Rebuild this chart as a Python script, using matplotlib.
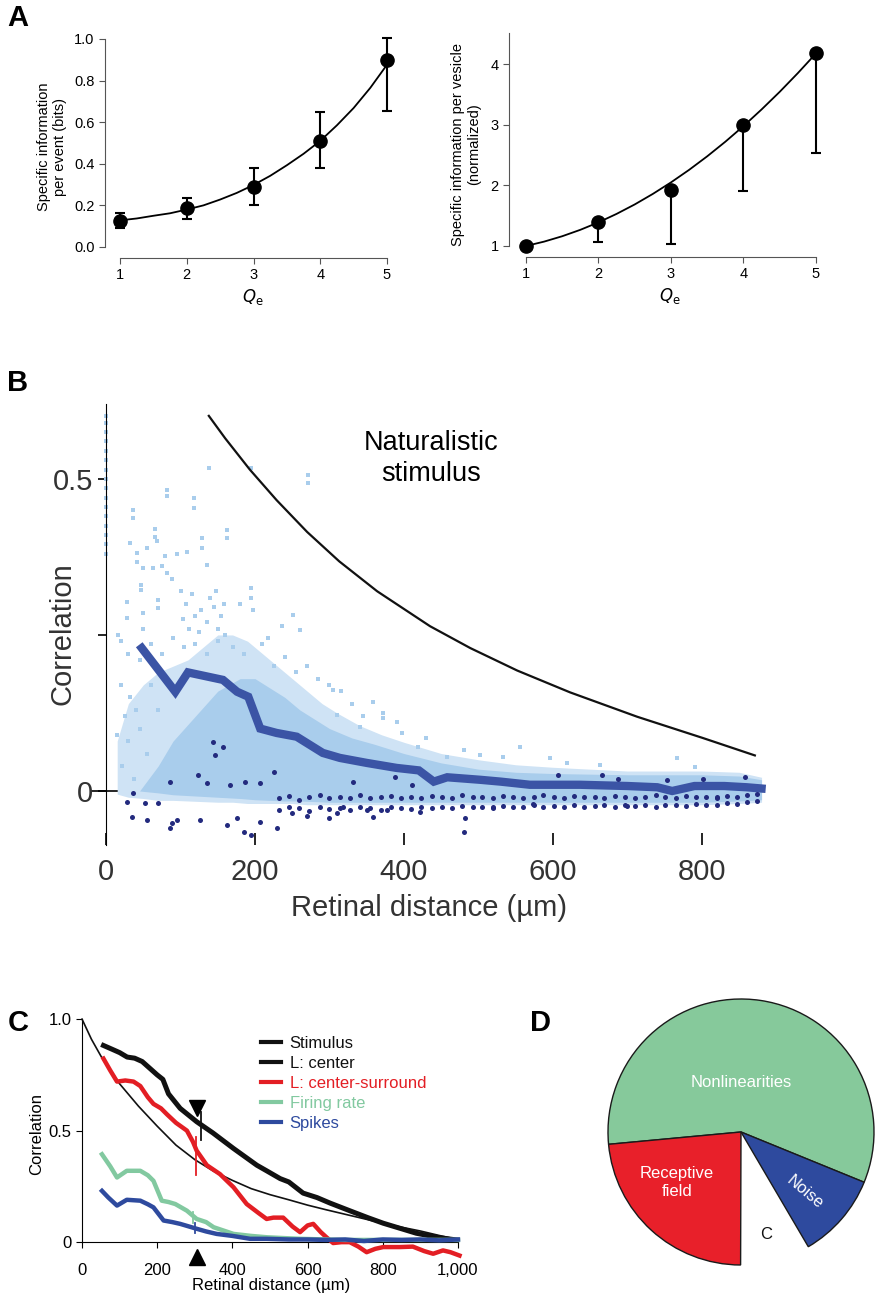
import numpy as np
import matplotlib.pyplot as plt
from matplotlib.lines import Line2D

plt.rcParams['font.family'] = ['Liberation Sans', 'DejaVu Sans']
NARROW = ['Liberation Sans Narrow', 'Liberation Sans', 'DejaVu Sans']

# ---------------- panel A data
qe = [1, 2, 3, 4, 5]
info_event = [0.125, 0.185, 0.29, 0.51, 0.90]
info_event_lo = [0.09, 0.135, 0.20, 0.38, 0.655]
info_event_hi = [0.165, 0.235, 0.38, 0.65, 1.005]
fit_q = [1.0, 1.25, 1.5, 1.75, 2.0, 2.25, 2.5, 2.75, 3.0, 3.25, 3.5, 3.75, 4.0, 4.25, 4.5, 4.75, 5.0]
fit_event = [0.128, 0.137, 0.150, 0.162, 0.180, 0.200, 0.228, 0.260, 0.298, 0.342, 0.393,
             0.448, 0.510, 0.585, 0.668, 0.765, 0.876]
info_vesicle = [1.0, 1.4, 1.93, 3.0, 4.18]
info_vesicle_lo = [1.0, 1.06, 1.03, 1.906, 2.536]
fit_vesicle = [1.000, 1.072, 1.161, 1.267, 1.390, 1.530, 1.686, 1.860, 2.050, 2.257, 2.481,
               2.722, 2.980, 3.255, 3.546, 3.855, 4.180]

# ---------------- panel B data
stim_x = [138, 160, 193, 229, 270, 313, 364, 435, 489, 552, 623, 713, 801, 871]
stim_y = [0.601, 0.565, 0.515, 0.466, 0.415, 0.368, 0.320, 0.264, 0.229, 0.193, 0.158, 0.119,
          0.085, 0.057]
mean_x = [48, 93, 110, 157, 176, 191, 207, 229, 256, 291, 314, 350, 390, 420, 440, 458, 480, 502,
          530, 569, 636, 700, 740, 760, 790, 830, 860, 880]
mean_y = [0.229, 0.159, 0.19, 0.178, 0.159, 0.151, 0.10, 0.093, 0.087, 0.061, 0.053, 0.045, 0.037,
          0.033, 0.015, 0.022, 0.02, 0.018, 0.015, 0.01, 0.01, 0.008, 0.006, 0.0, 0.008, 0.008, 0.006, 0.004]
# outer (sparser) and inner (dense) parts of the light-blue cloud
outer_x = [15, 30, 50, 70, 90, 110, 130, 150, 170, 190, 210, 230, 250, 270, 290, 310, 340, 370, 400,
           450, 500, 550, 600, 650, 700, 750, 800, 850, 880]
outer_hi = [0.08, 0.14, 0.17, 0.19, 0.20, 0.21, 0.23, 0.25, 0.25, 0.24, 0.22, 0.20, 0.18, 0.16, 0.14,
            0.125, 0.105, 0.09, 0.078, 0.06, 0.05, 0.042, 0.038, 0.035, 0.032, 0.032, 0.032, 0.03, 0.022]
outer_lo = [-0.005, -0.01, -0.012, -0.015, -0.015, -0.016, -0.017, -0.018, -0.018, -0.02, -0.02,
            -0.02, -0.02, -0.022, -0.022, -0.022, -0.022, -0.022, -0.022, -0.022, -0.022, -0.022,
            -0.022, -0.022, -0.022, -0.022, -0.022, -0.02, -0.018]
inner_x = [45, 70, 90, 120, 150, 180, 200, 220, 240, 260, 280, 300, 330, 360, 400, 450, 500, 550,
           600, 650, 700, 750, 800, 850, 880]
inner_hi = [0.0, 0.04, 0.08, 0.12, 0.16, 0.18, 0.18, 0.165, 0.15, 0.13, 0.115, 0.10, 0.085, 0.075,
            0.06, 0.045, 0.035, 0.03, 0.028, 0.027, 0.026, 0.026, 0.026, 0.024, 0.018]
inner_lo = [0.0, -0.003, -0.006, -0.008, -0.01, -0.012, -0.014, -0.015, -0.016, -0.016, -0.017,
            -0.018, -0.018, -0.018, -0.018, -0.018, -0.018, -0.018, -0.018, -0.018, -0.018, -0.018,
            -0.018, -0.016, -0.014]
light_x = [0, 0, 0, 0, 0, 0, 0, 0, 0, 0, 0, 0, 0, 0, 0, 0,
           138, 195, 271, 271, 82, 82, 118, 118, 36, 36, 66, 66, 162, 162, 129, 129, 32, 55, 68, 79,
           95, 109, 135, 41, 41, 50, 63, 75, 82, 89, 47, 47, 28, 28, 50, 50, 70, 70, 195, 195, 180,
           197, 251, 236, 260, 217, 16,
           100, 108, 115, 120, 128, 135, 140, 145, 150, 155, 160, 112, 125, 104, 148, 158,
           20, 30, 45, 60, 75, 90, 105, 120, 135, 150, 170, 185, 210, 225, 240, 255, 270, 285, 300,
           315, 20, 32, 25, 40, 15, 30, 45, 55, 22, 38, 60, 70,
           305, 310, 358, 372, 372, 397, 341, 419, 556, 458, 502, 533, 596, 619, 663, 766, 790, 330,
           345, 390, 430, 480]
light_y = [0.60, 0.59, 0.575, 0.56, 0.545, 0.53, 0.515, 0.50, 0.485, 0.47, 0.455, 0.44, 0.425,
           0.41, 0.395, 0.38,
           0.518, 0.518, 0.506, 0.493, 0.482, 0.473, 0.47, 0.454, 0.45, 0.437, 0.42, 0.407, 0.418,
           0.405, 0.405, 0.39, 0.397, 0.39, 0.40, 0.377, 0.38, 0.383, 0.362, 0.381, 0.367, 0.357,
           0.357, 0.36, 0.35, 0.34, 0.33, 0.322, 0.303, 0.277, 0.285, 0.26, 0.306, 0.293, 0.325,
           0.31, 0.30, 0.29, 0.282, 0.265, 0.258, 0.245, 0.25,
           0.32, 0.30, 0.315, 0.28, 0.29, 0.27, 0.31, 0.295, 0.26, 0.28, 0.25, 0.26, 0.255, 0.275,
           0.32, 0.30,
           0.24, 0.22, 0.21, 0.235, 0.22, 0.245, 0.23, 0.235, 0.22, 0.24, 0.23, 0.22, 0.235, 0.2,
           0.215, 0.19, 0.2, 0.18, 0.17, 0.16, 0.17, 0.15, 0.12, 0.13, 0.09, 0.08, 0.1, 0.06, 0.04,
           0.02, 0.17, 0.13,
           0.162, 0.122, 0.143, 0.125, 0.117, 0.093, 0.103, 0.07, 0.07, 0.054, 0.058, 0.054, 0.053,
           0.045, 0.042, 0.053, 0.039, 0.14, 0.12, 0.11, 0.085, 0.065]
dark_x = [144, 157, 146, 86, 123, 135, 166, 187, 207, 36, 28, 52, 70, 35, 55, 89, 95, 86, 126, 162,
          176, 207, 300, 358, 377, 482, 519, 573, 310, 318, 350, 421, 411, 388, 607, 331, 666, 687,
          753, 801, 858, 699, 820, 250, 270, 230, 185, 195, 480, 225]
dark_y = [0.079, 0.07, 0.058, 0.015, 0.026, 0.013, 0.01, 0.015, 0.013, -0.003, -0.018, -0.02, -0.02,
          -0.042, -0.046, -0.051, -0.046, -0.059, -0.046, -0.054, -0.043, -0.05, -0.043, -0.042,
          -0.03, -0.043, -0.026, -0.021, -0.035, -0.026, -0.03, -0.033, 0.01, 0.022, 0.026, 0.015,
          0.026, 0.02, 0.018, 0.02, 0.023, -0.024, -0.009, -0.035, -0.04, -0.06, -0.065, -0.07,
          -0.065, 0.03]
band_x = [232, 246, 259, 273, 287, 300, 314, 328, 341, 355, 369, 382, 396, 410, 423, 437, 451, 464,
          478, 492, 505, 519, 533, 546, 560, 574, 587, 601, 615, 628, 642, 656, 669, 683, 697, 710,
          724, 738, 751, 765, 779, 792, 806, 820, 833, 847, 861, 874]
band_top = [-0.012, -0.008, -0.014, -0.01, -0.006, -0.012, -0.009, -0.011, -0.007, -0.012, -0.01,
            -0.008, -0.011, -0.009, -0.012, -0.008, -0.01, -0.011, -0.007, -0.01, -0.009, -0.012,
            -0.008, -0.01, -0.011, -0.009, -0.007, -0.01, -0.012, -0.008, -0.01, -0.009, -0.011,
            -0.008, -0.01, -0.012, -0.009, -0.007, -0.01, -0.011, -0.008, -0.01, -0.009, -0.012,
            -0.008, -0.01, -0.006, -0.004]
band_bot = [-0.03, -0.026, -0.028, -0.032, -0.025, -0.029, -0.027, -0.03, -0.026, -0.028, -0.031,
            -0.025, -0.027, -0.029, -0.026, -0.028, -0.025, -0.027, -0.024, -0.026, -0.025, -0.027,
            -0.024, -0.026, -0.025, -0.023, -0.025, -0.024, -0.026, -0.023, -0.025, -0.024, -0.022,
            -0.025, -0.023, -0.024, -0.022, -0.025, -0.023, -0.022, -0.024, -0.021, -0.023, -0.022,
            -0.02, -0.021, -0.018, -0.016]

# ---------------- panel C data
stim_c_x = [0, 25, 50, 100, 150, 200, 250, 300, 350, 400, 450, 500, 550, 600, 650, 700, 750, 800,
            850, 900, 950, 1000]
stim_c_y = [1.0, 0.91, 0.835, 0.71, 0.61, 0.52, 0.435, 0.37, 0.318, 0.277, 0.24, 0.213, 0.19,
            0.166, 0.145, 0.125, 0.105, 0.085, 0.067, 0.05, 0.03, 0.012]
center_x = [57, 80, 100, 120, 140, 160, 180, 200, 215, 230, 261, 305, 348, 403, 465, 491, 527, 550,
            588, 625, 660, 712, 760, 801, 850, 889, 950, 996]
center_y = [0.882, 0.865, 0.85, 0.83, 0.825, 0.81, 0.78, 0.75, 0.73, 0.665, 0.60, 0.54, 0.49, 0.42,
            0.345, 0.32, 0.285, 0.27, 0.22, 0.20, 0.175, 0.141, 0.11, 0.085, 0.06, 0.04, 0.02, 0.01]
surround_x = [57, 75, 93, 115, 137, 155, 175, 190, 210, 226, 250, 279, 295, 305, 332, 367, 403, 438,
              470, 491, 509, 535, 560, 580, 600, 615, 635, 650, 668, 690, 712, 735, 757, 780, 801,
              845, 880, 910, 934, 960, 980, 1004]
surround_y = [0.823, 0.77, 0.72, 0.725, 0.72, 0.70, 0.65, 0.62, 0.6, 0.573, 0.535, 0.50, 0.45, 0.41,
              0.345, 0.305, 0.246, 0.171, 0.13, 0.104, 0.11, 0.11, 0.07, 0.045, 0.075, 0.082, 0.045,
              0.022, -0.004, 0.0, 0.0, -0.02, -0.045, -0.03, -0.022, -0.022, -0.02, -0.04, -0.052,
              -0.037, -0.045, -0.06]
rate_x = [53, 75, 93, 119, 140, 155, 175, 190, 212, 230, 248, 279, 305, 330, 350, 380, 403, 450,
          491, 540, 580, 650, 700, 800, 900, 1000]
rate_y = [0.394, 0.34, 0.29, 0.32, 0.32, 0.32, 0.30, 0.275, 0.186, 0.18, 0.171, 0.141, 0.104, 0.09,
          0.067, 0.05, 0.037, 0.028, 0.022, 0.018, 0.015, 0.012, 0.01, 0.01, 0.01, 0.01]
spike_x = [53, 70, 93, 119, 155, 175, 190, 217, 240, 261, 305, 330, 358, 400, 447, 491, 550, 600,
           650, 700, 750, 800, 850, 900, 950, 1000]
spike_y = [0.23, 0.2, 0.164, 0.19, 0.186, 0.17, 0.156, 0.097, 0.09, 0.082, 0.06, 0.048, 0.037, 0.028,
           0.015, 0.015, 0.012, 0.012, 0.01, 0.012, 0.005, 0.012, 0.01, 0.012, 0.008, 0.012]

# ---------------- panel D data
pie_labels = ['Nonlinearities', 'Receptive\nfield', 'C', 'Noise']
pie_sizes = [57.7, 23.5, 8.5, 10.4]
pie_colors = ['#86c99b', '#e8202a', 'white', '#2e4a9e']

BLACK = '#111111'
RED = '#e31e24'
GREEN = '#82c9a0'
BLUE = '#2e4a9e'
LIGHT = '#a9cdec'
PALE = '#cfe3f5'
NAVY = '#232a7e'
MEAN = '#3b54a5'

fig = plt.figure(figsize=(8.85, 13), dpi=100)


def px_axes(l, t, r, b):
    return fig.add_axes([l / 885, 1 - b / 1300, (r - l) / 885, (b - t) / 1300])


def clean(ax):
    ax.spines['top'].set_visible(False)
    ax.spines['right'].set_visible(False)


# ---------------- A left
ax = px_axes(105, 35, 400, 258)
clean(ax)
err = [np.array(info_event) - np.array(info_event_lo), np.array(info_event_hi) - np.array(info_event)]
ax.plot(fit_q, fit_event, color='black', lw=1.3)
ax.errorbar(qe, info_event, yerr=err, fmt='o', color='black', ms=9.5, capsize=3.5, elinewidth=1.5,
            capthick=1.5)
ax.set_xlim(0.775, 5.195)
ax.set_ylim(-0.053, 1.019)
ax.set_xticks(qe)
ax.set_yticks([0.0, 0.2, 0.4, 0.6, 0.8, 1.0])
ax.set_yticklabels(['0.0', '0.2', '0.4', '0.6', '0.8', '1.0'])
ax.spines['left'].set_bounds(0, 1)
ax.spines['bottom'].set_bounds(1, 5)
ax.spines['left'].set_color('#555555')
ax.spines['bottom'].set_color('#555555')
ax.tick_params(labelsize=10.5, length=4, color='#555555')
ax.set_ylabel('Specific information\nper event (bits)', fontsize=10.5, labelpad=5)
ax.set_xlabel('$Q_\\mathrm{e}$', fontsize=12, labelpad=3)

# ---------------- A right
ax = px_axes(509, 31, 831, 257)
clean(ax)
err = [np.array(info_vesicle) - np.array(info_vesicle_lo), np.zeros(5)]
ax.plot(fit_q, fit_vesicle, color='black', lw=1.3)
ax.errorbar(qe, info_vesicle, yerr=err, fmt='o', color='black', ms=9.5, capsize=3.5, elinewidth=1.5,
            capthick=1.5)
ax.set_xlim(0.766, 5.207)
ax.set_ylim(0.818, 4.55)
ax.set_xticks(qe)
ax.set_yticks([1, 2, 3, 4])
ax.spines['left'].set_bounds(1, 4.52)
ax.spines['bottom'].set_bounds(1, 5)
ax.spines['left'].set_color('#555555')
ax.spines['bottom'].set_color('#555555')
ax.tick_params(labelsize=10.5, length=4, color='#555555')
ax.set_ylabel('Specific information per vesicle\n(normalized)', fontsize=10.5, labelpad=7)
ax.set_xlabel('$Q_\\mathrm{e}$', fontsize=12, labelpad=3)

# ---------------- B
ax = px_axes(90, 404, 769, 845)
clean(ax)
ax.spines['bottom'].set_visible(False)
ax.spines['left'].set_position(('data', 0))
ax.plot([-22, 70], [0, 0], color='black', lw=1.2, zorder=1)
ax.plot([70, 880], [0, 0], color='black', lw=1.0, ls=(0, (3, 3)), zorder=1)
ax.fill_between(outer_x, outer_lo, outer_hi, color=PALE, lw=0, zorder=2)
ax.fill_between(inner_x, inner_lo, inner_hi, color=LIGHT, lw=0, zorder=2)
ax.scatter(light_x, light_y, s=10, marker='s', color=LIGHT, lw=0, zorder=2)
ax.plot(mean_x, mean_y, color=MEAN, lw=6, solid_joinstyle='miter', zorder=3)
ax.scatter(band_x, band_top, s=13, color=NAVY, lw=0, zorder=4)
ax.scatter(band_x, band_bot, s=13, color=NAVY, lw=0, zorder=4)
ax.scatter(dark_x, dark_y, s=13, color=NAVY, lw=0, zorder=4)
ax.plot(stim_x, stim_y, color=BLACK, lw=1.6, zorder=3)
ax.text(437, 0.532, 'Naturalistic\nstimulus', ha='center', va='center', fontsize=19.5,
        family=NARROW, linespacing=1.25)
ax.set_xlim(-21.5, 890)
ax.set_ylim(-0.0865, 0.62)
ax.set_xticks([0, 200, 400, 600, 800])
ax.set_yticks([0, 0.25, 0.5])
ax.set_yticklabels(['0', '', '0.5'])
ax.tick_params(axis='x', direction='in', length=9, width=1.2, pad=9)
ax.tick_params(axis='y', length=6, width=1.2)
for lab in ax.get_xticklabels() + ax.get_yticklabels():
    lab.set_fontsize(21)
    lab.set_family(NARROW)
    lab.set_color('#333333')
ax.set_xlabel('Retinal distance (µm)', fontsize=21, family=NARROW, color='#333333', labelpad=6)
ax.set_ylabel('Correlation', fontsize=21, family=NARROW, color='#333333')
ax.yaxis.set_label_coords(-0.02, 0.48)

# ---------------- C
ax = px_axes(76.4, 1008, 465.5, 1260)
clean(ax)
ax.spines['left'].set_position(('data', 0))
ax.spines['bottom'].set_position(('data', 0))
ax.spines['left'].set_bounds(0, 1)
ax.spines['bottom'].set_bounds(0, 1000)
ax.plot(stim_c_x, stim_c_y, color=BLACK, lw=1.2, zorder=3)
ax.plot(center_x, center_y, color=BLACK, lw=3.6, zorder=3)
ax.plot(surround_x, surround_y, color=RED, lw=3.2, zorder=3)
ax.plot(rate_x, rate_y, color=GREEN, lw=3.2, zorder=3)
ax.plot(spike_x, spike_y, color=BLUE, lw=3.2, zorder=4)
# length-constant marks
ax.plot([316, 316], [0.457, 0.583], color=BLACK, lw=1.3, zorder=5)
ax.plot([303, 303], [0.30, 0.471], color=RED, lw=1.3, zorder=5)
ax.plot([295, 295], [0.085, 0.135], color=GREEN, lw=1.3, zorder=5)
ax.plot([300, 300], [0.04, 0.085], color=BLUE, lw=1.3, zorder=5)
ax.plot([306], [0.60], marker='v', color='black', ms=11, zorder=6)
ax.plot([306], [-0.065], marker='^', color='black', ms=11, zorder=6, clip_on=False)
ax.set_xlim(-15, 1020)
ax.set_ylim(-0.08, 1.05)
ax.set_xticks([0, 200, 400, 600, 800, 1000])
ax.set_xticklabels(['0', '200', '400', '600', '800', '1,000'])
ax.set_yticks([0, 0.5, 1.0])
ax.set_yticklabels(['0', '0.5', '1.0'])
ax.tick_params(axis='x', length=4, pad=11, labelsize=12)
ax.tick_params(axis='y', length=4, labelsize=12)
ax.set_xlabel('Retinal distance (µm)', fontsize=12, labelpad=0)
ax.set_ylabel('Correlation', fontsize=12, labelpad=3)
handles = [Line2D([], [], color=c, lw=3) for c in [BLACK, BLACK, RED, GREEN, BLUE]]
names = ['Stimulus', 'L: center', 'L: center-surround', 'Firing rate', 'Spikes']
leg = ax.legend(handles, names, loc='upper left', bbox_to_anchor=(0.475, 0.89), frameon=False,
                fontsize=12, handlelength=1.2, handletextpad=0.5, labelspacing=0.3,
                borderpad=0, borderaxespad=0)
for txt, c in zip(leg.get_texts(), [BLACK, BLACK, RED, GREEN, BLUE]):
    txt.set_color(c)

# ---------------- D
ax = px_axes(608, 999, 874, 1265)
wedges, _ = ax.pie(pie_sizes, colors=pie_colors, startangle=-22.2, counterclock=True, radius=1,
                   wedgeprops=dict(edgecolor='#1a1a1a', linewidth=1.0))
wedges[2].set_edgecolor('none')
wedges[2].set_facecolor('none')
ax.set_xlim(-1, 1)
ax.set_ylim(-1, 1)
ax.text(0.0, 0.37, pie_labels[0], color='white', ha='center', va='center', fontsize=12)
ax.text(-0.48, -0.38, pie_labels[1], color='white', ha='center', va='center', fontsize=12,
        linespacing=1.3)
ax.text(0.48, -0.45, pie_labels[3], color='white', ha='center', va='center', fontsize=12,
        rotation=-40)
ax.text(0.19, -0.77, pie_labels[2], color=BLACK, ha='center', va='center', fontsize=12)

# panel letters
for letter, x, y in [('A', 18, 18), ('B', 18, 383), ('C', 18, 1023), ('D', 541, 1023)]:
    fig.text(x / 885, 1 - y / 1300, letter, fontsize=21, fontweight='bold', family=NARROW,
             ha='center', va='center')

fig.savefig('out.png', dpi=100)
